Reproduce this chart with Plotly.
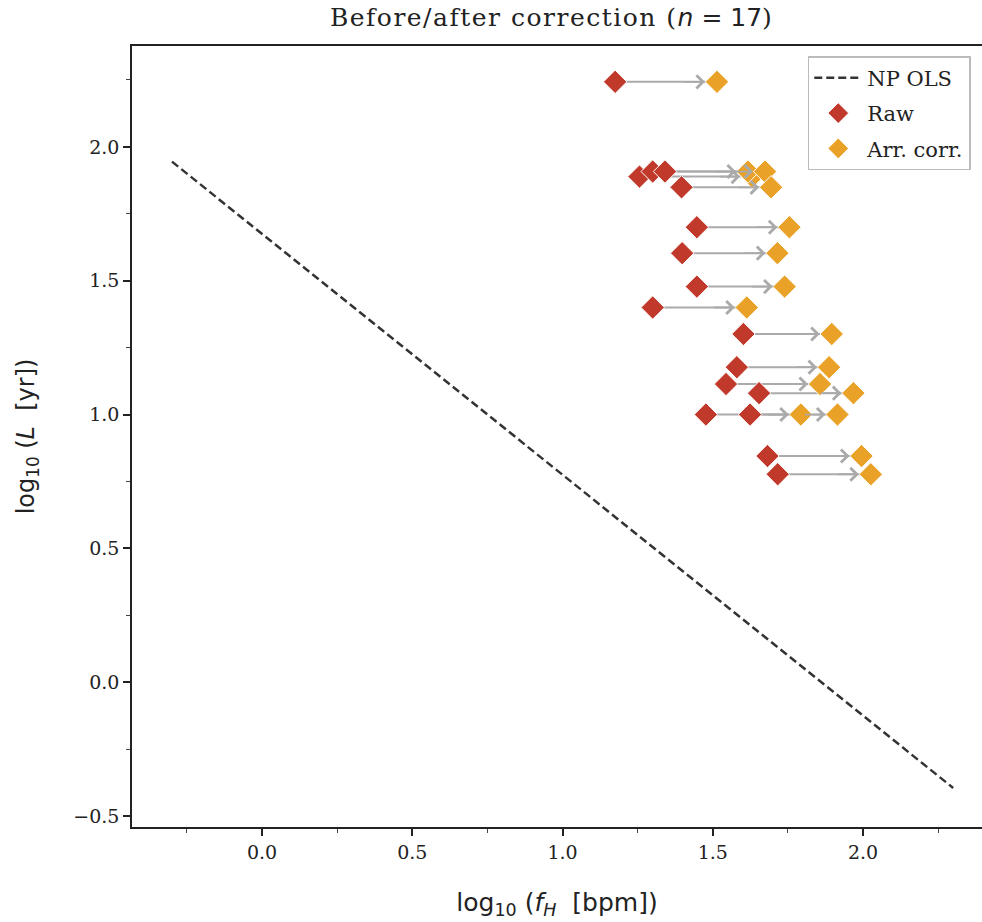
import plotly.graph_objects as go

# data
raw_x = [1.175, 1.256, 1.300, 1.341, 1.396, 1.447, 1.398, 1.447, 1.300,
         1.602, 1.580, 1.544, 1.654, 1.477, 1.624, 1.682, 1.716]
corr_x = [1.514, 1.631, 1.617, 1.674, 1.694, 1.755, 1.715, 1.739, 1.613,
          1.896, 1.887, 1.857, 1.968, 1.793, 1.915, 1.995, 2.026]
log_L = [2.243, 1.889, 1.908, 1.908, 1.849, 1.700, 1.603, 1.478, 1.400,
         1.301, 1.177, 1.114, 1.080, 1.000, 1.000, 0.845, 0.777]
ols_x = [-0.3, 2.3]
ols_y = [1.945, -0.395]
x_ticks = [0.0, 0.5, 1.0, 1.5, 2.0]
y_ticks = [-0.5, 0.0, 0.5, 1.0, 1.5, 2.0]

RED = "#c0392b"
ORANGE = "#e9a227"
GRAY = "#aaaaaa"
SERIF = "DejaVu Serif"
SANS = "DejaVu Sans"

fig = go.Figure()

# arrow shafts (beneath markers)
sx, sy = [], []
for a, b, v in zip(raw_x, corr_x, log_L):
    sx += [a, b, None]
    sy += [v, v, None]
fig.add_trace(go.Scatter(x=sx, y=sy, mode="lines", line=dict(color=GRAY, width=2),
                         showlegend=False, hoverinfo="skip"))

fig.add_trace(go.Scatter(x=ols_x, y=ols_y, mode="lines", name="NP OLS", legendgroup="a",
                         line=dict(color="#333333", width=2.5, dash="8px,4px")))
fig.add_trace(go.Scatter(x=raw_x, y=log_L, mode="markers", name="Raw", legendgroup="b",
                         marker=dict(symbol="diamond", size=18, color=RED,
                                     line=dict(color="white", width=1))))
fig.add_trace(go.Scatter(x=corr_x, y=log_L, mode="markers", name="Arr. corr.", legendgroup="c",
                         marker=dict(symbol="diamond", size=18, color=ORANGE,
                                     line=dict(color="white", width=1))))

# arrow heads
for b, v in zip(corr_x, log_L):
    fig.add_annotation(x=b, y=v, xref="x", yref="y", ax=-34, ay=0, text="",
                       showarrow=True, arrowhead=4, arrowsize=1.4, arrowwidth=1.8,
                       arrowcolor=GRAY, standoff=12)

axis_common = dict(showgrid=False, zeroline=False, showline=True, linecolor="#222222",
                   linewidth=1.5, ticks="outside", ticklen=7, tickwidth=1.5,
                   tickcolor="#222222",
                   tickfont=dict(family=SERIF, size=19, color="#222222"),
                   minor=dict(ticks="outside", ticklen=4, tickwidth=1, tickcolor="#444444",
                              dtick=0.25))

fig.update_xaxes(range=[-0.433, 2.396], tickvals=x_ticks,
                 ticktext=[f"{t:.1f}" for t in x_ticks], mirror=True,
                 title=dict(text="log<sub>10</sub> (<i>f<sub>H</sub></i>  [bpm])",
                            font=dict(family=SANS, size=25, color="#222222"), standoff=32),
                 **axis_common)
fig.update_yaxes(range=[-0.541, 2.377], tickvals=y_ticks,
                 ticktext=[("\u2212" if t < 0 else "") + f"{abs(t):.1f}" for t in y_ticks],
                 title=dict(text="log<sub>10</sub> (<i>L</i>  [yr])",
                            font=dict(family=SANS, size=24, color="#222222"), standoff=32),
                 **axis_common)

fig.update_layout(
    width=982, height=922, autosize=False,
    margin=dict(l=132, r=0, t=46, b=95),
    plot_bgcolor="white", paper_bgcolor="white",
    title=dict(text="<span style=\"letter-spacing:1.5px\">Before/after correction (</span>"
                    "<span style=\"font-family:DejaVu Sans\"><i>n</i> = 17</span>)",
               x=0.561, xanchor="center", y=0.981, yanchor="middle", yref="container",
               font=dict(family=SERIF, size=25, color="#222222")),
    legend=dict(x=0.795, y=0.987, xanchor="left", yanchor="top",
                bgcolor="rgba(255,255,255,0.9)", bordercolor="#bbbbbb", borderwidth=1.5,
                font=dict(family=SERIF, size=21, color="#222222"),
                itemwidth=48, tracegroupgap=5),
)

fig.write_html("out.html")
